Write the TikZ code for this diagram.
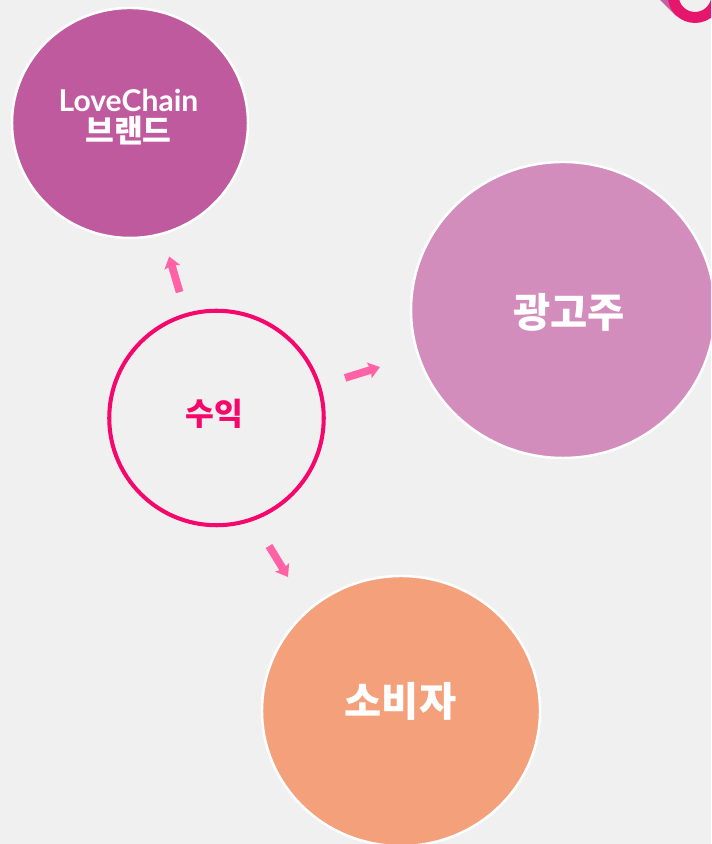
\documentclass[tikz,border=0pt]{standalone}
\usepackage{fontspec}
\setmainfont{Lato}
\newfontfamily\krfont{Noto Sans CJK KR}
\usetikzlibrary{shapes.geometric, arrows.meta}
\definecolor{pagebg}{HTML}{F0F0F0}
\definecolor{brandfill}{HTML}{C05A9E}
\definecolor{advfill}{HTML}{D38DBC}
\definecolor{consfill}{HTML}{F4A07B}
\definecolor{incomeline}{HTML}{F5076B}
\definecolor{arrowfill}{HTML}{FF63A5}
\definecolor{ringfill}{HTML}{E5166B}
\tikzset{
    bubble/.style={draw=white, line width=0.7pt, ellipse, inner sep=0pt, outer sep=0pt},
    bubbletext/.style={text=white, font=\bfseries, align=center, inner sep=0pt},
    fatarrow/.style={draw=arrowfill, line width=2.2pt, -{Stealth[length=3.2pt, width=4.6pt, inset=0.6pt]}}
}
\begin{document}
\begin{tikzpicture}
    \clip (0, 0) rectangle (7.11, 8.44);
    \fill[pagebg] (0, 0) rectangle (7.11, 8.44);
    \fill[brandfill!85!advfill] (6.60, 8.44) -- (6.68, 8.44) -- (6.80, 8.26) -- (6.75, 8.29) -- cycle;
    \fill[ringfill, even odd rule] (6.95, 8.483) circle (0.273) (6.95, 8.483) circle (0.163);
    \node[bubble, fill=brandfill, minimum width=2.36cm, minimum height=2.30cm] (brand) at (1.30, 7.21) {};
    \node[bubble, fill=advfill, minimum width=3.04cm, minimum height=2.96cm] (adv) at (5.63, 5.34) {};
    \node[bubble, fill=consfill, minimum width=2.78cm, minimum height=2.70cm] (cons) at (4.01, 1.33) {};
    \node[draw=incomeline, line width=1.15pt, circle, inner sep=0pt, outer sep=0pt, minimum size=2.145cm] (income) at (2.165, 4.26) {};
    \coordinate (consstart) at (2.69, 2.98);
    \coordinate (consend) at (2.88, 2.67);
    \node[bubbletext] (brandtext) at (1.285, 7.27) {\fontsize{8.55}{8.55}\selectfont LoveChain\\[-3.1pt]\fontsize{8.9}{8.9}\selectfont\krfont 브랜드};
    \node[bubbletext, font=\krfont\bfseries\fontsize{11.5}{13}\selectfont] (advtext) at (5.69, 5.32) {광고주};
    \node[bubbletext, font=\krfont\bfseries\fontsize{11.5}{13}\selectfont] (constext) at (4.005, 1.43) {소비자};
    \node[bubbletext, text=incomeline, font=\krfont\bfseries\fontsize{8.9}{10}\selectfont] (incometext) at (2.14, 4.30) {수익};
    \draw[fatarrow, shorten <=6.8pt, shorten >=6.8pt] (income) -- (brand);
    \draw[fatarrow, shorten <=7.8pt, shorten >=11.4pt] (income) -- (adv);
    \draw[fatarrow] (consstart) -- (consend);
\end{tikzpicture}
\end{document}
